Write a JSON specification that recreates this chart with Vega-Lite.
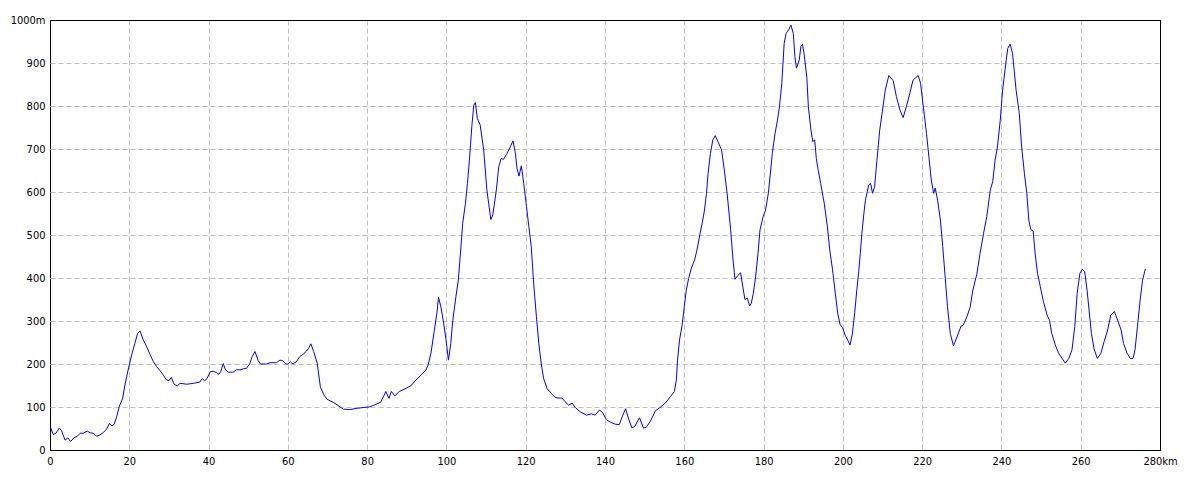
{
  "$schema": "https://vega.github.io/schema/vega-lite/v6.json",
  "width": 1110,
  "height": 430,
  "autosize": {"type": "none"},
  "padding": {"left": 50, "top": 20, "right": 40, "bottom": 30},
  "background": "white",
  "config": {
    "view": {"stroke": "black", "strokeWidth": 1},
    "axis": {
      "labelFont": "DejaVu Sans Condensed, DejaVu Sans",
      "labelFontSize": 11,
      "labelColor": "black",
      "domain": false,
      "ticks": false,
      "gridWidth": 1,
      "title": null
    }
  },
  "data": {"values": [
    {"k":0,"e":56},{"k":0.8,"e":36},{"k":1.5,"e":39},{"k":2.35,"e":51},{"k":2.9,"e":45},{"k":3.8,"e":23},{"k":4.5,"e":28},{"k":5.2,"e":20},{"k":6.05,"e":28},{"k":6.9,"e":32},{"k":7.6,"e":39},{"k":8.4,"e":39},{"k":9.4,"e":44},{"k":10.1,"e":40},{"k":10.9,"e":39},{"k":11.8,"e":32},{"k":12.6,"e":35},{"k":13.5,"e":41},{"k":14.3,"e":49},{"k":15.0,"e":62},{"k":15.6,"e":56},{"k":16.2,"e":60},{"k":16.8,"e":77},{"k":17.5,"e":102},{"k":18.3,"e":119},{"k":18.9,"e":151},{"k":19.7,"e":186},{"k":20.6,"e":221},{"k":21.4,"e":248},{"k":22.1,"e":271},{"k":22.7,"e":277},{"k":23.5,"e":257},{"k":24.4,"e":240},{"k":25.2,"e":223},{"k":26.1,"e":205},{"k":26.9,"e":194},{"k":27.8,"e":184},{"k":28.6,"e":174},{"k":29.4,"e":163},{"k":30.0,"e":161},{"k":30.6,"e":169},{"k":31.3,"e":153},{"k":32.1,"e":149},{"k":32.8,"e":155},{"k":34.5,"e":153},{"k":36.2,"e":155},{"k":37.8,"e":158},{"k":38.4,"e":166},{"k":39.0,"e":161},{"k":39.6,"e":166},{"k":40.4,"e":182},{"k":41.2,"e":183},{"k":42.0,"e":180},{"k":42.6,"e":176},{"k":43.1,"e":183},{"k":43.7,"e":201},{"k":44.3,"e":186},{"k":45.0,"e":181},{"k":46.2,"e":181},{"k":47.1,"e":187},{"k":47.9,"e":186},{"k":48.8,"e":189},{"k":49.6,"e":190},{"k":50.4,"e":201},{"k":51.0,"e":217},{"k":51.7,"e":229},{"k":52.5,"e":208},{"k":53.1,"e":200},{"k":54.6,"e":200},{"k":55.5,"e":203},{"k":57.1,"e":203},{"k":58.0,"e":209},{"k":58.6,"e":208},{"k":59.5,"e":200},{"k":60.0,"e":200},{"k":60.6,"e":205},{"k":61.3,"e":200},{"k":62.1,"e":205},{"k":63.0,"e":217},{"k":64.3,"e":226},{"k":65.2,"e":236},{"k":65.8,"e":247},{"k":66.5,"e":229},{"k":67.4,"e":202},{"k":68.2,"e":147},{"k":69.1,"e":128},{"k":69.9,"e":118},{"k":71.6,"e":110},{"k":72.9,"e":102},{"k":74.0,"e":95},{"k":75.6,"e":94},{"k":77.5,"e":97},{"k":79.2,"e":99},{"k":80.5,"e":100},{"k":81.7,"e":104},{"k":83.4,"e":111},{"k":84.1,"e":124},{"k":84.7,"e":136},{"k":85.5,"e":120},{"k":86.1,"e":136},{"k":87.0,"e":126},{"k":88.1,"e":136},{"k":89.3,"e":141},{"k":91.0,"e":149},{"k":92.3,"e":163},{"k":93.6,"e":174},{"k":94.8,"e":186},{"k":95.4,"e":198},{"k":96.1,"e":225},{"k":96.9,"e":275},{"k":97.6,"e":318},{"k":98.0,"e":355},{"k":98.6,"e":333},{"k":99.3,"e":295},{"k":99.9,"e":256},{"k":100.5,"e":209},{"k":101.1,"e":248},{"k":101.6,"e":301},{"k":102.4,"e":357},{"k":103.0,"e":395},{"k":103.6,"e":465},{"k":104.1,"e":527},{"k":104.8,"e":574},{"k":105.3,"e":620},{"k":105.8,"e":674},{"k":106.4,"e":752},{"k":106.9,"e":802},{"k":107.3,"e":808},{"k":107.8,"e":771},{"k":108.5,"e":756},{"k":109.4,"e":698},{"k":110.2,"e":605},{"k":111.2,"e":536},{"k":111.7,"e":547},{"k":112.6,"e":605},{"k":113.2,"e":659},{"k":113.8,"e":678},{"k":114.4,"e":676},{"k":115.3,"e":690},{"k":116.1,"e":705},{"k":116.8,"e":719},{"k":117.4,"e":690},{"k":117.8,"e":655},{"k":118.3,"e":637},{"k":118.9,"e":661},{"k":119.5,"e":620},{"k":120.2,"e":566},{"k":120.8,"e":519},{"k":121.4,"e":473},{"k":122.0,"e":388},{"k":122.7,"e":310},{"k":123.3,"e":248},{"k":123.9,"e":202},{"k":124.5,"e":167},{"k":125.4,"e":143},{"k":126.4,"e":132},{"k":127.2,"e":124},{"k":127.9,"e":121},{"k":129.1,"e":121},{"k":130.0,"e":112},{"k":130.8,"e":104},{"k":131.7,"e":109},{"k":132.5,"e":99},{"k":133.7,"e":89},{"k":135.3,"e":81},{"k":136.6,"e":84},{"k":137.5,"e":81},{"k":138.6,"e":93},{"k":139.4,"e":87},{"k":140.3,"e":71},{"k":141.3,"e":65},{"k":142.6,"e":60},{"k":143.6,"e":59},{"k":144.5,"e":81},{"k":145.2,"e":96},{"k":145.9,"e":74},{"k":146.8,"e":51},{"k":147.6,"e":56},{"k":148.7,"e":75},{"k":149.7,"e":51},{"k":150.4,"e":53},{"k":151.4,"e":66},{"k":152.7,"e":91},{"k":153.9,"e":99},{"k":155.2,"e":109},{"k":156.5,"e":124},{"k":157.5,"e":136},{"k":158.0,"e":163},{"k":158.3,"e":209},{"k":158.8,"e":256},{"k":159.4,"e":287},{"k":160.0,"e":333},{"k":160.5,"e":372},{"k":161.1,"e":399},{"k":161.8,"e":423},{"k":162.6,"e":442},{"k":163.2,"e":465},{"k":163.9,"e":500},{"k":164.5,"e":527},{"k":165.1,"e":558},{"k":165.6,"e":597},{"k":166.0,"e":643},{"k":166.6,"e":690},{"k":167.2,"e":721},{"k":167.8,"e":731},{"k":168.5,"e":717},{"k":169.4,"e":698},{"k":170.1,"e":651},{"k":170.8,"e":597},{"k":171.7,"e":512},{"k":172.3,"e":442},{"k":172.8,"e":397},{"k":173.4,"e":405},{"k":174.2,"e":412},{"k":174.9,"e":372},{"k":175.3,"e":350},{"k":175.9,"e":353},{"k":176.5,"e":335},{"k":176.9,"e":341},{"k":177.4,"e":364},{"k":178.0,"e":403},{"k":178.6,"e":457},{"k":179.1,"e":512},{"k":179.9,"e":543},{"k":180.5,"e":558},{"k":181.2,"e":597},{"k":181.8,"e":651},{"k":182.2,"e":690},{"k":182.9,"e":736},{"k":183.5,"e":767},{"k":184.0,"e":798},{"k":184.6,"e":853},{"k":184.9,"e":899},{"k":185.2,"e":946},{"k":185.7,"e":969},{"k":186.3,"e":977},{"k":186.9,"e":988},{"k":187.5,"e":969},{"k":187.9,"e":915},{"k":188.3,"e":888},{"k":189.0,"e":907},{"k":189.4,"e":938},{"k":189.8,"e":944},{"k":190.2,"e":923},{"k":190.9,"e":868},{"k":191.3,"e":798},{"k":191.9,"e":748},{"k":192.4,"e":717},{"k":192.9,"e":721},{"k":193.3,"e":678},{"k":193.8,"e":650},{"k":194.4,"e":620},{"k":195.3,"e":574},{"k":196.1,"e":519},{"k":196.7,"e":465},{"k":197.4,"e":419},{"k":198.1,"e":364},{"k":198.7,"e":318},{"k":199.3,"e":292},{"k":199.9,"e":285},{"k":200.6,"e":267},{"k":201.2,"e":256},{"k":201.8,"e":244},{"k":202.4,"e":270},{"k":203.0,"e":320},{"k":203.5,"e":370},{"k":204.0,"e":415},{"k":204.4,"e":457},{"k":204.8,"e":504},{"k":205.3,"e":550},{"k":205.7,"e":581},{"k":206.5,"e":616},{"k":207.0,"e":620},{"k":207.5,"e":597},{"k":208.0,"e":612},{"k":208.6,"e":674},{"k":209.3,"e":744},{"k":209.9,"e":783},{"k":210.7,"e":837},{"k":211.6,"e":871},{"k":212.7,"e":859},{"k":213.5,"e":822},{"k":214.4,"e":791},{"k":215.2,"e":773},{"k":216.0,"e":798},{"k":216.9,"e":830},{"k":217.7,"e":860},{"k":219.0,"e":871},{"k":219.6,"e":853},{"k":220.3,"e":798},{"k":221.1,"e":736},{"k":221.7,"e":682},{"k":222.3,"e":628},{"k":222.9,"e":597},{"k":223.3,"e":609},{"k":223.9,"e":581},{"k":224.6,"e":535},{"k":225.2,"e":473},{"k":225.8,"e":403},{"k":226.4,"e":333},{"k":227.1,"e":271},{"k":227.9,"e":242},{"k":228.8,"e":263},{"k":229.8,"e":288},{"k":230.4,"e":291},{"k":231.3,"e":310},{"k":232.1,"e":332},{"k":232.8,"e":372},{"k":233.8,"e":409},{"k":234.6,"e":457},{"k":235.5,"e":504},{"k":236.3,"e":543},{"k":237.2,"e":605},{"k":237.8,"e":624},{"k":238.4,"e":674},{"k":239.0,"e":705},{"k":239.7,"e":767},{"k":240.3,"e":837},{"k":241.1,"e":899},{"k":241.6,"e":934},{"k":242.2,"e":944},{"k":242.8,"e":922},{"k":243.7,"e":837},{"k":244.5,"e":783},{"k":245.1,"e":705},{"k":245.8,"e":643},{"k":246.4,"e":597},{"k":246.9,"e":535},{"k":247.4,"e":513},{"k":248.0,"e":509},{"k":248.5,"e":457},{"k":249.1,"e":411},{"k":249.8,"e":380},{"k":250.6,"e":345},{"k":251.5,"e":314},{"k":252.1,"e":302},{"k":252.7,"e":271},{"k":253.6,"e":244},{"k":254.4,"e":226},{"k":255.3,"e":213},{"k":256.1,"e":202},{"k":257.0,"e":213},{"k":257.8,"e":233},{"k":258.5,"e":287},{"k":259.1,"e":364},{"k":259.8,"e":411},{"k":260.4,"e":420},{"k":261.0,"e":415},{"k":261.6,"e":372},{"k":262.1,"e":326},{"k":262.7,"e":271},{"k":263.4,"e":234},{"k":264.2,"e":213},{"k":265.1,"e":225},{"k":265.9,"e":252},{"k":266.8,"e":279},{"k":267.6,"e":314},{"k":268.5,"e":322},{"k":269.3,"e":302},{"k":270.2,"e":279},{"k":270.8,"e":248},{"k":271.7,"e":225},{"k":272.5,"e":213},{"k":273.2,"e":213},{"k":273.7,"e":233},{"k":274.4,"e":295},{"k":275.0,"e":349},{"k":275.6,"e":395},{"k":276.3,"e":421}
  ]},
  "mark": {"type": "line", "color": "#0000ff", "strokeWidth": 1, "clip": true},
  "encoding": {
    "x": {
      "field": "k", "type": "quantitative",
      "scale": {"domain": [0, 280], "nice": false, "zero": false},
      "axis": {
        "values": [0, 20, 40, 60, 80, 100, 120, 140, 160, 180, 200, 220, 240, 260, 280],
        "labelExpr": "datum.value == 280 ? '280km' : datum.label",
        "labelPadding": 5,
        "labelFlush": false,
        "labelOverlap": false,
        "gridColor": {"condition": {"test": "datum.value == 0 || datum.value == 280", "value": "black"}, "value": "#c0c0c0"},
        "gridDash": {"condition": {"test": "datum.value == 0 || datum.value == 280", "value": []}, "value": [5, 3]}
      }
    },
    "y": {
      "field": "e", "type": "quantitative",
      "scale": {"domain": [0, 1000], "nice": false},
      "axis": {
        "values": [0, 100, 200, 300, 400, 500, 600, 700, 800, 900, 1000],
        "labelExpr": "datum.value == 1000 ? '1000m' : datum.label",
        "labelPadding": 5,
        "labelFlush": false,
        "labelOverlap": false,
        "gridColor": {"condition": {"test": "datum.value == 0 || datum.value == 1000", "value": "black"}, "value": "#c0c0c0"},
        "gridDash": {"condition": {"test": "datum.value == 0 || datum.value == 1000", "value": []}, "value": [5, 3]}
      }
    }
  }
}
